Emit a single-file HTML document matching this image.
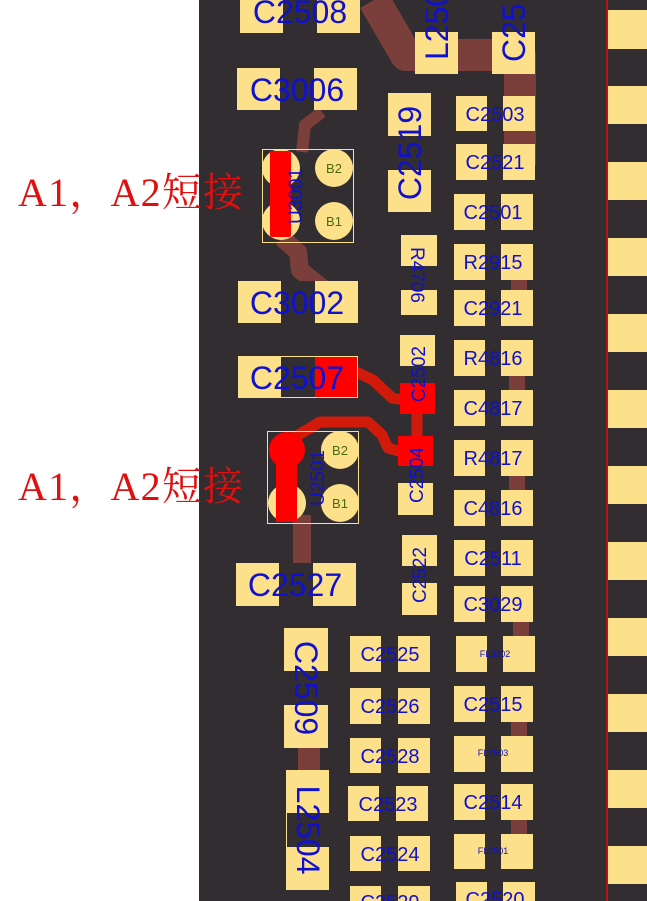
<!DOCTYPE html>
<html><head><meta charset="utf-8"><style>
html,body{margin:0;padding:0;background:#fff;}
svg{display:block}
.b{font-family:"Liberation Sans",sans-serif;fill:#1010d0;}
</style></head><body>
<svg width="647" height="901" viewBox="0 0 647 901" xmlns="http://www.w3.org/2000/svg">
<rect x="0" y="0" width="647" height="901" fill="#fff"/>
<rect x="199" y="0" width="448" height="901" fill="#312d30"/>
<g fill="#fde08a">
<rect x="608" y="10" width="39" height="39"/><rect x="608" y="86" width="39" height="38"/>
<rect x="608" y="162" width="39" height="38"/><rect x="608" y="238" width="39" height="38"/>
<rect x="608" y="314" width="39" height="38"/><rect x="608" y="390" width="39" height="38"/>
<rect x="608" y="466" width="39" height="38"/><rect x="608" y="542" width="39" height="38"/>
<rect x="608" y="618" width="39" height="38"/><rect x="608" y="694" width="39" height="38"/>
<rect x="608" y="770" width="39" height="38"/><rect x="608" y="846" width="39" height="38"/>
</g>
<line x1="607" y1="0" x2="607" y2="901" stroke="#b01818" stroke-width="2"/>
<g stroke="#7a3f3a" fill="none" stroke-linejoin="round">
<polyline points="374,0 406,55 520,55 520,165" stroke-width="32"/>
<polyline points="322,112 305,125 302,152" stroke-width="12"/>
<polyline points="282,238 298,252 300,270 325,290" stroke-width="18"/>
<line x1="302" y1="515" x2="302" y2="575" stroke-width="18"/>
<line x1="309" y1="745" x2="309" y2="772" stroke-width="22"/>
<g stroke-width="16">
<line x1="519" y1="278" x2="519" y2="292"/><line x1="517" y1="374" x2="517" y2="392"/>
<line x1="517" y1="474" x2="517" y2="492"/><line x1="521" y1="620" x2="521" y2="638"/>
<line x1="519" y1="720" x2="519" y2="738"/><line x1="519" y1="818" x2="519" y2="836"/>
</g>
</g>
<g stroke="#d01a0a" fill="none" stroke-width="11" stroke-linejoin="round">
<polyline points="356,372 373,380 392,398 404,400"/>
<line x1="417" y1="412" x2="417" y2="438"/>
<polyline points="290,440 320,422 368,422 382,435 388,448 402,452"/>
</g>
<g>
<rect x="240" y="0" width="120" height="33" fill="#fde08a"/><rect x="283" y="0" width="34" height="33" fill="#312d30"/>
<text x="300" y="23" class="b" font-size="32" text-anchor="middle">C2508</text>
<rect x="237" y="68" width="120" height="42" fill="#fde08a"/><rect x="280" y="68" width="34" height="42" fill="#312d30"/>
<text x="297" y="101" class="b" font-size="32" text-anchor="middle">C3006</text>
<rect x="238" y="281" width="120" height="42" fill="#fde08a"/><rect x="281" y="281" width="34" height="42" fill="#312d30"/>
<text x="297" y="314" class="b" font-size="32" text-anchor="middle">C3002</text>
<rect x="238" y="356" width="120" height="42" fill="#fde08a"/><rect x="281" y="356" width="34" height="42" fill="#312d30"/><rect x="315" y="356" width="43" height="42" fill="#f00"/>
<rect x="238.5" y="356.5" width="119" height="41" fill="none" stroke="#fde08a" stroke-width="1"/>
<text x="297" y="389" class="b" font-size="32" text-anchor="middle">C2507</text>
<rect x="236" y="563" width="120" height="43" fill="#fde08a"/><rect x="279" y="563" width="34" height="43" fill="#312d30"/>
<text x="295" y="596" class="b" font-size="32" text-anchor="middle">C2527</text>
</g>
<g>
<rect x="415" y="0" width="43" height="74" fill="#fde08a"/><rect x="415" y="0" width="43" height="32" fill="#312d30"/>
<text transform="translate(448,0) rotate(-90)" x="-60" y="0" class="b" font-size="32">L250</text>
<rect x="492" y="0" width="43" height="74" fill="#fde08a"/><rect x="492" y="0" width="43" height="32" fill="#312d30"/>
<text transform="translate(525,0) rotate(-90)" x="-62" y="0" class="b" font-size="32">C25</text>
<rect x="388" y="93" width="43" height="119" fill="#fde08a"/><rect x="388" y="136" width="43" height="34" fill="#312d30"/>
<text transform="translate(421,153) rotate(-90)" x="0" y="0" class="b" font-size="32" text-anchor="middle">C2519</text>
<rect x="401" y="235" width="36" height="80" fill="#fde08a"/><rect x="401" y="266" width="36" height="24" fill="#312d30"/>
<text transform="translate(411,275) rotate(90)" x="0" y="0" class="b" font-size="19" text-anchor="middle">R4706</text>
<rect x="400" y="335" width="35" height="79" fill="#fde08a"/><rect x="400" y="366" width="35" height="17" fill="#312d30"/><rect x="400" y="383" width="35" height="31" fill="#f00"/>
<text transform="translate(425,374) rotate(-90)" x="0" y="0" class="b" font-size="19" text-anchor="middle">C2502</text>
<rect x="398" y="436" width="35" height="79" fill="#fde08a"/><rect x="398" y="466" width="35" height="17" fill="#312d30"/><rect x="398" y="436" width="35" height="30" fill="#f00"/>
<text transform="translate(423,475) rotate(-90)" x="0" y="0" class="b" font-size="19" text-anchor="middle">C2504</text>
<rect x="402" y="535" width="35" height="80" fill="#fde08a"/><rect x="402" y="566" width="35" height="17" fill="#312d30"/>
<text transform="translate(426,575) rotate(-90)" x="0" y="0" class="b" font-size="19" text-anchor="middle">C2522</text>
<rect x="284" y="628" width="44" height="120" fill="#fde08a"/><rect x="284" y="671" width="44" height="34" fill="#312d30"/>
<text transform="translate(295,688) rotate(90)" x="0" y="0" class="b" font-size="32" text-anchor="middle">C2509</text>
<rect x="286" y="770" width="43" height="120" fill="#fde08a"/><rect x="287" y="813" width="42" height="34" fill="#312d30"/>
<text transform="translate(297,830) rotate(90)" x="0" y="0" class="b" font-size="32" text-anchor="middle">L2504</text>
</g>
<g font-size="19">
<rect x="456" y="96" width="79" height="35" fill="#fde08a"/><rect x="487" y="96" width="16" height="35" fill="#312d30"/><text x="495" y="121" class="b" font-size="20" text-anchor="middle">C2503</text>
<rect x="456" y="144" width="79" height="36" fill="#fde08a"/><rect x="487" y="144" width="16" height="36" fill="#312d30"/><text x="495" y="169" class="b" font-size="20" text-anchor="middle">C2521</text>
<rect x="454" y="194" width="79" height="36" fill="#fde08a"/><rect x="485" y="194" width="16" height="36" fill="#312d30"/><text x="493" y="219" class="b" font-size="20" text-anchor="middle">C2501</text>
<rect x="454" y="244" width="79" height="36" fill="#fde08a"/><rect x="485" y="244" width="16" height="36" fill="#312d30"/><text x="493" y="269" class="b" font-size="20" text-anchor="middle">R2915</text>
<rect x="454" y="290" width="79" height="36" fill="#fde08a"/><rect x="485" y="290" width="16" height="36" fill="#312d30"/><text x="493" y="315" class="b" font-size="20" text-anchor="middle">C2921</text>
<rect x="454" y="340" width="79" height="36" fill="#fde08a"/><rect x="485" y="340" width="16" height="36" fill="#312d30"/><text x="493" y="365" class="b" font-size="20" text-anchor="middle">R4816</text>
<rect x="454" y="390" width="79" height="36" fill="#fde08a"/><rect x="485" y="390" width="16" height="36" fill="#312d30"/><text x="493" y="415" class="b" font-size="20" text-anchor="middle">C4817</text>
<rect x="454" y="440" width="79" height="36" fill="#fde08a"/><rect x="485" y="440" width="16" height="36" fill="#312d30"/><text x="493" y="465" class="b" font-size="20" text-anchor="middle">R4817</text>
<rect x="454" y="490" width="79" height="36" fill="#fde08a"/><rect x="485" y="490" width="16" height="36" fill="#312d30"/><text x="493" y="515" class="b" font-size="20" text-anchor="middle">C4816</text>
<rect x="454" y="540" width="79" height="36" fill="#fde08a"/><rect x="485" y="540" width="16" height="36" fill="#312d30"/><text x="493" y="565" class="b" font-size="20" text-anchor="middle">C2511</text>
<rect x="454" y="586" width="79" height="36" fill="#fde08a"/><rect x="485" y="586" width="16" height="36" fill="#312d30"/><text x="493" y="611" class="b" font-size="20" text-anchor="middle">C3029</text>
<rect x="456" y="636" width="79" height="36" fill="#fde08a"/><rect x="487" y="636" width="16" height="36" fill="#312d30"/><text x="495" y="657" class="b" font-size="9" text-anchor="middle">FL3002</text>
<rect x="454" y="686" width="79" height="36" fill="#fde08a"/><rect x="485" y="686" width="16" height="36" fill="#312d30"/><text x="493" y="711" class="b" font-size="20" text-anchor="middle">C2515</text>
<rect x="454" y="736" width="79" height="36" fill="#fde08a"/><rect x="485" y="736" width="16" height="36" fill="#312d30"/><text x="493" y="756" class="b" font-size="9" text-anchor="middle">FL2503</text>
<rect x="454" y="784" width="79" height="36" fill="#fde08a"/><rect x="485" y="784" width="16" height="36" fill="#312d30"/><text x="493" y="809" class="b" font-size="20" text-anchor="middle">C2514</text>
<rect x="454" y="834" width="79" height="35" fill="#fde08a"/><rect x="485" y="834" width="16" height="35" fill="#312d30"/><text x="493" y="854" class="b" font-size="9" text-anchor="middle">FL2501</text>
<rect x="456" y="882" width="79" height="19" fill="#fde08a"/><rect x="487" y="882" width="16" height="19" fill="#312d30"/><text x="495" y="906" class="b" font-size="20" text-anchor="middle">C2520</text>
<rect x="350" y="636" width="80" height="36" fill="#fde08a"/><rect x="381" y="636" width="17" height="36" fill="#312d30"/><text x="390" y="661" class="b" font-size="20" text-anchor="middle">C2525</text>
<rect x="350" y="688" width="80" height="36" fill="#fde08a"/><rect x="381" y="688" width="17" height="36" fill="#312d30"/><text x="390" y="713" class="b" font-size="20" text-anchor="middle">C2526</text>
<rect x="350" y="738" width="80" height="35" fill="#fde08a"/><rect x="381" y="738" width="17" height="35" fill="#312d30"/><text x="390" y="763" class="b" font-size="20" text-anchor="middle">C2528</text>
<rect x="348" y="786" width="80" height="35" fill="#fde08a"/><rect x="379" y="786" width="17" height="35" fill="#312d30"/><text x="388" y="811" class="b" font-size="20" text-anchor="middle">C2523</text>
<rect x="350" y="836" width="80" height="35" fill="#fde08a"/><rect x="381" y="836" width="17" height="35" fill="#312d30"/><text x="390" y="861" class="b" font-size="20" text-anchor="middle">C2524</text>
<rect x="350" y="886" width="80" height="15" fill="#fde08a"/><rect x="381" y="886" width="17" height="15" fill="#312d30"/><text x="390" y="909" class="b" font-size="20" text-anchor="middle">C2529</text>
</g>
<rect x="262.5" y="149.5" width="91" height="93" fill="none" stroke="#fde08a" stroke-width="1"/>
<g fill="#fde08a"><circle cx="281" cy="168" r="19"/><circle cx="281" cy="221" r="19"/><circle cx="334" cy="168" r="19"/><circle cx="334" cy="221" r="19"/></g>
<rect x="270" y="151" width="21" height="86" rx="2" fill="#f00"/>
<text x="334" y="173" font-family="Liberation Sans,sans-serif" font-size="13" fill="#4a6a10" text-anchor="middle">B2</text>
<text x="334" y="226" font-family="Liberation Sans,sans-serif" font-size="13" fill="#4a6a10" text-anchor="middle">B1</text>
<text transform="translate(302,196) rotate(-90)" class="b" font-size="19" text-anchor="middle">U3001</text>
<rect x="267.5" y="431.5" width="91" height="92" fill="none" stroke="#fde08a" stroke-width="1"/>
<g fill="#fde08a"><circle cx="287" cy="503" r="19"/><circle cx="340" cy="450" r="19"/><circle cx="340" cy="503" r="19"/></g>
<circle cx="287" cy="450" r="18" fill="#f00"/>
<rect x="276" y="450" width="21" height="72" fill="#f00"/>
<text x="340" y="455" font-family="Liberation Sans,sans-serif" font-size="13" fill="#4a6a10" text-anchor="middle">B2</text>
<text x="340" y="508" font-family="Liberation Sans,sans-serif" font-size="13" fill="#4a6a10" text-anchor="middle">B1</text>
<text transform="translate(324,478) rotate(-90)" class="b" font-size="19" text-anchor="middle">U2501</text>
<text x="18" y="206" font-family="Liberation Serif,'Noto Serif CJK SC',serif" font-size="40" fill="#e01010" textLength="225" lengthAdjust="spacing">A1，A2短接</text>
<text x="18" y="500" font-family="Liberation Serif,'Noto Serif CJK SC',serif" font-size="40" fill="#e01010" textLength="225" lengthAdjust="spacing">A1，A2短接</text>
</svg>
</body></html>
